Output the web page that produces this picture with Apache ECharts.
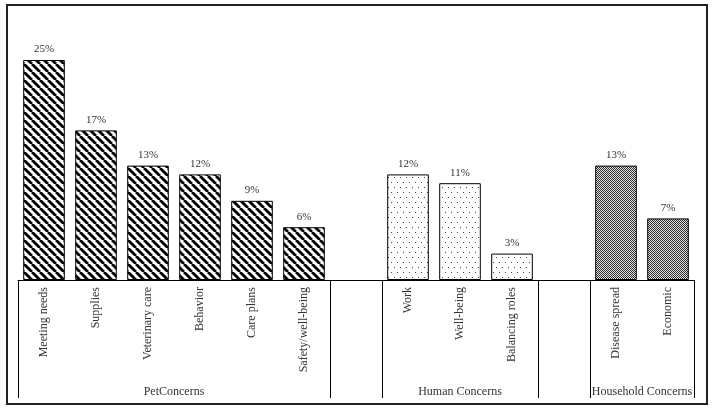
<!DOCTYPE html>
<html>
<head>
<meta charset="utf-8">
<script src="https://cdn.jsdelivr.net/npm/echarts@6/dist/echarts.min.js"></script>
<style>
html,body{margin:0;padding:0;background:#fff;}
#chart{width:712px;height:410px;}
</style>
</head>
<body>
<div id="chart"></div>
<script>
// ---- data ----
const categories = ['Meeting needs','Supplies','Veterinary care','Behavior','Care plans','Safety/well-being','',
  'Work','Well-being','Balancing roles','',
  'Disease spread','Economic'];
const values = [25,17,13,12,9,6,null,12,11,3,null,13,7];
const groupOf = ['pet','pet','pet','pet','pet','pet',null,'human','human','human',null,'household','household'];
const groupNames = ['PetConcerns','Human Concerns','Household Concerns'];
const groupCenters = [3, 8.5, 12];       // in category units (for group labels)
const groupBoundaries = [0, 6, 7, 10, 11]; // category indices where a group divider starts

// ---- patterns ----
function stripes(){
  const c=document.createElement('canvas');c.width=8;c.height=8;
  const g=c.getContext('2d');g.fillStyle='#fff';g.fillRect(0,0,8,8);
  g.strokeStyle='#000';g.lineWidth=2.8;
  [-8,0,8].forEach(k=>{g.beginPath();g.moveTo(k,0);g.lineTo(k+8,8);g.stroke();});
  return c;
}
function dots(){
  const c=document.createElement('canvas');c.width=6;c.height=10;
  const g=c.getContext('2d');g.fillStyle='#fff';g.fillRect(0,0,6,10);
  g.fillStyle='#444';g.fillRect(1,2,1,1);g.fillRect(4,7,1,1);
  return c;
}
function checker(){
  const c=document.createElement('canvas');c.width=2;c.height=2;
  const g=c.getContext('2d');g.fillStyle='#e2e2e2';g.fillRect(0,0,2,2);
  g.fillStyle='#2e2e2e';g.fillRect(0,0,1,1);g.fillRect(1,1,1,1);
  return c;
}
const fills={pet:{image:stripes(),repeat:'repeat'},human:{image:dots(),repeat:'repeat'},household:{image:checker(),repeat:'repeat'}};

const font="'Liberation Serif', 'DejaVu Serif', serif";
const chart=echarts.init(document.getElementById('chart'),null,{renderer:'canvas'});
chart.setOption({
  animation:false,
  backgroundColor:'#fff',
  grid:{left:18,right:18,top:16,bottom:130,containLabel:false},
  graphic:[{type:'rect',shape:{x:7,y:5,width:700,height:399},style:{fill:'none',stroke:'#222',lineWidth:2},z:-1}],
  xAxis:[{
    type:'category',data:categories,boundaryGap:true,
    axisLine:{lineStyle:{color:'#000',width:1}},
    axisTick:{show:true,length:118,interval:(i)=>groupBoundaries.indexOf(i)>=0,lineStyle:{color:'#000',width:1}},
    axisLabel:{rotate:90,margin:7,interval:0,fontFamily:font,fontSize:12,color:'#333'}
  },{
    type:'value',min:0,max:13,interval:0.5,position:'bottom',
    axisLine:{show:false},axisTick:{show:false},splitLine:{show:false},
    axisLabel:{margin:106,fontFamily:font,fontSize:12,color:'#333',showMinLabel:true,showMaxLabel:true,
      formatter:(v)=>{const k=groupCenters.indexOf(v);return k>=0?groupNames[k]:'';}}
  }],
  yAxis:{type:'value',min:0,max:30,show:false,splitLine:{show:false}},
  series:[{
    type:'bar',xAxisIndex:0,barWidth:'80%',
    data:values.map((v,i)=>v==null?null:{value:v,itemStyle:{color:fills[groupOf[i]],borderColor:'#000',borderWidth:1}}),
    label:{show:true,position:'top',distance:5,formatter:'{c}%',fontFamily:font,fontSize:11,color:'#333'}
  }]
});
</script>
</body>
</html>
